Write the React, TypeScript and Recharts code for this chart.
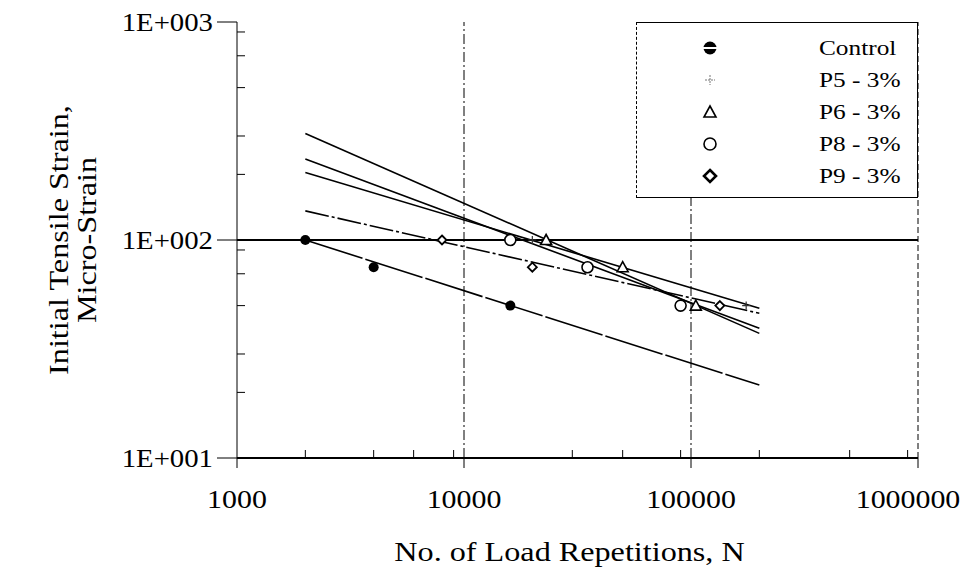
import { ReferenceLine, Scatter, ScatterChart, XAxis, YAxis, Label } from "recharts";

// load repetitions axis
const majorN = [1000, 10000, 100000, 1000000];
const minorN = [
  2000, 3000, 4000, 5000, 6000, 7000, 8000, 9000,
  20000, 30000, 40000, 50000, 60000, 70000, 80000, 90000,
  200000, 300000, 400000, 500000, 600000, 700000, 800000, 900000,
];
// strain axis
const majorStrain = [10, 100, 1000];
const minorStrain = [20, 30, 40, 50, 60, 70, 80, 90, 200, 300, 400, 500, 600, 700, 800, 900];

// measured points (n = repetitions, s = micro-strain)
const controlPts = [
  { n: 2000, s: 100 },
  { n: 4000, s: 75 },
  { n: 16000, s: 50 },
];
const p5Pts = [
  { n: 20000, s: 100 },
  { n: 50000, s: 75 },
  { n: 175000, s: 50 },
];
const p6Pts = [
  { n: 23000, s: 100 },
  { n: 50000, s: 75 },
  { n: 105000, s: 50 },
];
const p8Pts = [
  { n: 16000, s: 100 },
  { n: 35000, s: 75 },
  { n: 90000, s: 50 },
];
const p9Pts = [
  { n: 8000, s: 100 },
  { n: 20000, s: 75 },
  { n: 134000, s: 50 },
];

// fitted lines, read at their end points
const controlFit = [
  { n: 2000, s: 100 },
  { n: 200000, s: 21.6 },
];
const p5Fit = [
  { n: 2000, s: 204 },
  { n: 200000, s: 48.6 },
];
const p6Fit = [
  { n: 2000, s: 308 },
  { n: 200000, s: 37.3 },
];
const p8Fit = [
  { n: 2000, s: 235 },
  { n: 200000, s: 39.4 },
];
const p9Fit = [
  { n: 2000, s: 136 },
  { n: 200000, s: 46.1 },
];

const legendNames = ["Control", "P5 - 3%", "P6 - 3%", "P8 - 3%", "P9 - 3%"];

const FONT = "'Liberation Serif', 'Times New Roman', serif";
const SX = 1.15; // the scanned text is a little wider than Times

const fmtExp = (v: number) => "1E+" + String(Math.round(Math.log10(v))).padStart(3, "0");

const NoTick = () => <g />;

const XTick = ({ x, y, payload }: any) => (
  <text
    transform={`translate(${payload.value === 1000000 ? x - 10 : x},${y}) scale(${SX},1)`}
    textAnchor="middle"
    dy="0.71em"
    fontFamily={FONT}
    fontSize={26}
    fill="#000"
  >
    {payload.value}
  </text>
);

const YTick = ({ x, y, payload }: any) => (
  <text
    transform={`translate(${x},${y}) scale(${SX},1)`}
    textAnchor="end"
    dy="0.35em"
    fontFamily={FONT}
    fontSize={25}
    fill="#000"
  >
    {fmtExp(payload.value)}
  </text>
);

const Dot = ({ cx, cy }: any) => <circle cx={cx} cy={cy} r={5} fill="#000" />;
const Ring = ({ cx, cy }: any) => <circle cx={cx} cy={cy} r={5.5} fill="#fff" stroke="#000" strokeWidth={1.6} />;
const Tri = ({ cx, cy }: any) => (
  <path d={`M${cx},${cy - 5.5} L${cx + 5.5},${cy + 4.5} L${cx - 5.5},${cy + 4.5} Z`} fill="#fff" stroke="#000" strokeWidth={1.6} />
);
const Diam = ({ cx, cy }: any) => (
  <path d={`M${cx},${cy - 4.5} L${cx + 4.5},${cy} L${cx},${cy + 4.5} L${cx - 4.5},${cy} Z`} fill="#fff" stroke="#000" strokeWidth={1.8} />
);
const Plus = ({ cx, cy }: any) => (
  <path d={`M${cx - 4},${cy} H${cx + 4} M${cx},${cy - 4} V${cy + 4}`} stroke="#333" strokeWidth={1.2} />
);

function LegendIcon({ i }: { i: number }) {
  return (
    <svg width={20} height={20} viewBox="-10 -10 20 20">
      {i === 0 && (
        <>
          <circle r={6.5} fill="#000" />
          <rect x={-7} y={-1} width={14} height={2} fill="#fff" />
        </>
      )}
      {i === 1 && <path d="M-5,0 H5 M0,-5 V5" stroke="#777" strokeWidth={1} strokeDasharray="2 1" />}
      {i === 2 && <path d="M0,-6 L6,5 L-6,5 Z" fill="none" stroke="#000" strokeWidth={1.6} />}
      {i === 3 && <circle r={6} fill="none" stroke="#000" strokeWidth={1.6} />}
      {i === 4 && <path d="M0,-6 L6,0 L0,6 L-6,0 Z" fill="none" stroke="#000" strokeWidth={2.6} />}
    </svg>
  );
}

const lineStyle = { stroke: "#000", strokeWidth: 1.6 };

export default function App() {
  return (
    <div style={{ position: "relative", width: 960, height: 560 }}>
      <ScatterChart width={960} height={560} margin={{ top: 14, right: 50, bottom: 50, left: 119 }}>
        <XAxis
          xAxisId="main"
          dataKey="n"
          type="number"
          scale="log"
          domain={[1000, 1000000]}
          ticks={majorN}
          allowDataOverflow
          height={60}
          tickSize={10}
          tickMargin={22}
          tick={<XTick />}
          stroke="#000"
          axisLine={{ stroke: "#000", strokeWidth: 1.8 }}
          tickLine={{ stroke: "#000" }}
        >
          <Label
            content={({ viewBox }: any) => (
              <text
                transform={`translate(${viewBox.x + viewBox.width / 2 - 8},${viewBox.y + viewBox.height + 43}) scale(${SX},1)`}
                textAnchor="middle"
                fontFamily={FONT}
                fontSize={28}
                fill="#000"
              >
                No. of Load Repetitions, N
              </text>
            )}
          />
        </XAxis>
        <XAxis
          xAxisId="minor"
          dataKey="n"
          type="number"
          scale="log"
          domain={[1000, 1000000]}
          ticks={minorN}
          allowDataOverflow
          mirror
          tickSize={8}
          tick={NoTick}
          axisLine={false}
          tickLine={{ stroke: "#000" }}
        />
        <YAxis
          yAxisId="main"
          dataKey="s"
          type="number"
          scale="log"
          domain={[10, 1000]}
          ticks={majorStrain}
          allowDataOverflow
          width={110}
          tickSize={20}
          tickMargin={4}
          tick={<YTick />}
          axisLine={{ stroke: "#000", strokeWidth: 1 }}
          tickLine={{ stroke: "#000" }}
        >
          <Label
            content={({ viewBox }: any) => {
              const cy = viewBox.y + viewBox.height / 2;
              return (
                <g fontFamily={FONT} fontSize={28} fill="#000">
                  <text transform={`translate(60,${cy}) rotate(-90) scale(${SX},1)`} textAnchor="middle">
                    Initial Tensile Strain,
                  </text>
                  <text transform={`translate(88,${cy}) rotate(-90) scale(${SX},1)`} textAnchor="middle">
                    Micro-Strain
                  </text>
                </g>
              );
            }}
          />
        </YAxis>
        <YAxis
          yAxisId="minor"
          dataKey="s"
          type="number"
          scale="log"
          domain={[10, 1000]}
          ticks={minorStrain}
          allowDataOverflow
          mirror
          tickSize={8}
          tick={NoTick}
          axisLine={false}
          tickLine={{ stroke: "#000" }}
        />

        <ReferenceLine xAxisId="main" yAxisId="main" x={10000} stroke="#000" strokeWidth={1} strokeDasharray="10 3 2 3" />
        <ReferenceLine xAxisId="main" yAxisId="main" x={100000} stroke="#000" strokeWidth={1} strokeDasharray="10 3 2 3" />
        <ReferenceLine xAxisId="main" yAxisId="main" x={1000000} stroke="#000" strokeWidth={1} strokeDasharray="6 3" />
        <ReferenceLine xAxisId="main" yAxisId="main" y={100} stroke="#000" strokeWidth={1.8} />

        <Scatter xAxisId="main" yAxisId="main" data={controlFit} line={{ ...lineStyle, strokeDasharray: "60 3" }} shape={NoTick} isAnimationActive={false} />
        <Scatter xAxisId="main" yAxisId="main" data={p5Fit} line={lineStyle} shape={NoTick} isAnimationActive={false} />
        <Scatter xAxisId="main" yAxisId="main" data={p6Fit} line={lineStyle} shape={NoTick} isAnimationActive={false} />
        <Scatter xAxisId="main" yAxisId="main" data={p8Fit} line={lineStyle} shape={NoTick} isAnimationActive={false} />
        <Scatter xAxisId="main" yAxisId="main" data={p9Fit} line={{ ...lineStyle, strokeDasharray: "24 3 3 3" }} shape={NoTick} isAnimationActive={false} />

        <Scatter xAxisId="main" yAxisId="main" data={controlPts} shape={Dot} isAnimationActive={false} />
        <Scatter xAxisId="main" yAxisId="main" data={p5Pts} shape={Plus} isAnimationActive={false} />
        <Scatter xAxisId="main" yAxisId="main" data={p6Pts} shape={Tri} isAnimationActive={false} />
        <Scatter xAxisId="main" yAxisId="main" data={p8Pts} shape={Ring} isAnimationActive={false} />
        <Scatter xAxisId="main" yAxisId="main" data={p9Pts} shape={Diam} isAnimationActive={false} />
      </ScatterChart>

      <div
        style={{
          position: "absolute",
          left: 628,
          top: 14,
          width: 282,
          height: 176,
          boxSizing: "border-box",
          borderTop: "1px solid #000",
          borderRight: "1px solid #000",
          borderBottom: "1.5px solid #000",
          borderLeft: "1px dashed #000",
          background: "#fff",
          paddingTop: 9,
        }}
      >
        {legendNames.map((name, i) => (
          <div key={name} style={{ display: "flex", alignItems: "center", height: 32 }}>
            <div style={{ width: 145, display: "flex", justifyContent: "center" }}>
              <LegendIcon i={i} />
            </div>
            <span
              style={{
                marginLeft: 37,
                fontFamily: FONT,
                fontSize: 22,
                display: "inline-block",
                transform: `scaleX(${SX})`,
                transformOrigin: "left center",
              }}
            >
              {name}
            </span>
          </div>
        ))}
      </div>
    </div>
  );
}
